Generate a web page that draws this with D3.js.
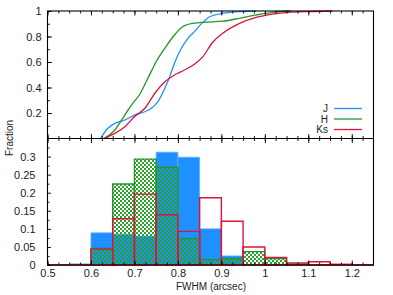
<!DOCTYPE html>
<html>
<head>
<meta charset="utf-8">
<script src="https://cdn.jsdelivr.net/npm/d3@7.9.0/dist/d3.min.js"></script>
<style>
  body { margin: 0; background: #fff; }
  svg { display: block; font-family: "Liberation Sans", Arial, sans-serif; }
  .tick text { font-size: 11px; fill: #222; }
</style>
</head>
<body>
<svg id="chart" width="393" height="295"></svg>
<script>
// cumulative curves: [fwhm, fraction]
const cdfJ = [[0.622,0],[0.639,0.08],[0.655,0.119],[0.678,0.145],[0.7,0.184],[0.724,0.21],[0.739,0.237],
  [0.754,0.289],[0.77,0.394],[0.781,0.485],[0.792,0.59],[0.808,0.708],[0.823,0.786],[0.838,0.838],
  [0.85,0.885],[0.873,0.955],[0.903,0.982],[0.94,0.995],[0.98,1]];
const cdfH = [[0.63,0],[0.655,0.067],[0.678,0.184],[0.693,0.262],[0.712,0.345],[0.731,0.472],[0.75,0.602],
  [0.77,0.708],[0.792,0.812],[0.811,0.877],[0.834,0.903],[0.865,0.912],[0.903,0.92],[0.942,0.943],
  [0.98,0.969],[1.018,0.99],[1.06,1]];
const cdfKs = [[0.63,0],[0.655,0.04],[0.678,0.093],[0.7,0.171],[0.724,0.237],[0.747,0.355],[0.77,0.445],
  [0.792,0.498],[0.815,0.537],[0.838,0.582],[0.857,0.64],[0.88,0.755],[0.903,0.825],[0.942,0.903],
  [0.98,0.95],[1.018,0.976],[1.056,0.99],[1.1,0.996],[1.155,1]];

// histograms, bins of 0.05 starting at 0.5
const binStarts = [0.5,0.55,0.6,0.65,0.7,0.75,0.8,0.85,0.9,0.95,1.0,1.05,1.1,1.15,1.2];
const histJ  = [0,0.003,0.089,0.085,0.08,0.312,0.298,0.1,0.025,0,0,0,0,0,0];
const histH  = [0,0,0.046,0.224,0.293,0.27,0.073,0.015,0.018,0.037,0.018,0.003,0,0,0];
const histKs = [0,0,0.044,0.128,0.196,0.139,0.093,0.186,0.121,0.05,0.021,0.006,0.009,0.002,0];
const binWidth = 0.05;

const series = ['J','H','Ks'];
const colJ = '#1e90ff', colH = '#259525', colKs = '#dc143c';

const svg = d3.select('#chart');
const x = d3.scaleLinear().domain([0.5, 1.25]).range([47.5, 373.5]);
const yTop = d3.scaleLinear().domain([0, 1]).range([138.5, 11]);
const yBot = d3.scaleLinear().domain([0, 0.35]).range([265, 138.5]);

// checker pattern for H
const defs = svg.append('defs');
const pat = defs.append('pattern').attr('id', 'checker')
  .attr('patternUnits', 'userSpaceOnUse').attr('width', 4).attr('height', 4);
pat.append('rect').attr('x', 0).attr('y', 0).attr('width', 2).attr('height', 2).attr('fill', '#2ba02b');
pat.append('rect').attr('x', 2).attr('y', 2).attr('width', 2).attr('height', 2).attr('fill', '#2ba02b');

function barPath(i, h) {
  const x0 = x(binStarts[i]), x1 = x(binStarts[i] + binWidth);
  const y0 = yBot(0), y1 = yBot(h);
  return `M${x0},${y0}V${y1}H${x1}V${y0}Z`;
}

// J: solid bars
svg.append('g').selectAll('path').data(histJ).join('path')
  .attr('d', (d, i) => barPath(i, d))
  .attr('fill', colJ).attr('stroke', '#5aaeff').attr('stroke-width', 0.8);

// H: checker bars with outline
svg.append('g').selectAll('path').data(histH).join('path')
  .attr('d', (d, i) => barPath(i, d))
  .attr('fill', 'url(#checker)').attr('stroke', colH).attr('stroke-width', 1.4);

// Ks: outline only
svg.append('g').selectAll('path').data(histKs).join('path')
  .attr('d', (d, i) => barPath(i, d))
  .attr('fill', 'none').attr('stroke', colKs).attr('stroke-width', 1.4);

// CDF lines
const line = d3.line().x(d => x(d[0])).y(d => yTop(d[1])).curve(d3.curveMonotoneX);
[[cdfJ, colJ], [cdfH, colH], [cdfKs, colKs]].forEach(([data, c]) => {
  svg.append('path').datum(data).attr('d', line)
    .attr('fill', 'none').attr('stroke', c).attr('stroke-width', 1.3);
});

// frame
svg.append('rect').attr('x', 47.5).attr('y', 11).attr('width', 326).attr('height', 254)
  .attr('fill', 'none').attr('stroke', '#000').attr('stroke-width', 1.1);
svg.append('line').attr('x1', 47.5).attr('x2', 373.5).attr('y1', 138.5).attr('y2', 138.5)
  .attr('stroke', '#000').attr('stroke-width', 1.1);

const majorX = d3.range(0.5, 1.201, 0.1);
const minorX = d3.range(0.5, 1.25, 0.025);

function addAxis(axis, tx, ty, strip) {
  const g = svg.append('g').attr('transform', `translate(${tx},${ty})`).call(axis);
  g.select('.domain').remove();
  g.selectAll('line').attr('stroke', '#000').attr('stroke-width', 0.9);
  if (strip) g.selectAll('text').remove();
  return g;
}

// bottom x axis
addAxis(d3.axisBottom(x).tickValues(majorX).tickSize(-4.5).tickPadding(4)
  .tickFormat(d => d3.format('~g')(+d.toFixed(2))), 0, 265, false);
addAxis(d3.axisBottom(x).tickValues(minorX).tickSize(-2.5), 0, 265, true);
// middle line, ticks both sides
addAxis(d3.axisBottom(x).tickValues(majorX).tickSize(4.5), 0, 138.5, true);
addAxis(d3.axisTop(x).tickValues(majorX).tickSize(4.5), 0, 138.5, true);
addAxis(d3.axisBottom(x).tickValues(minorX).tickSize(2.5), 0, 138.5, true);
addAxis(d3.axisTop(x).tickValues(minorX).tickSize(2.5), 0, 138.5, true);
// top frame
addAxis(d3.axisTop(x).tickValues(majorX).tickSize(-4.5), 0, 11, true);
addAxis(d3.axisTop(x).tickValues(minorX).tickSize(-2.5), 0, 11, true);

// top y axis
addAxis(d3.axisLeft(yTop).tickValues([0.2, 0.4, 0.6, 0.8, 1]).tickSize(-4.5).tickPadding(6)
  .tickFormat(d3.format('~g')), 47.5, 0, false);
addAxis(d3.axisLeft(yTop).tickValues(d3.range(0.1, 1, 0.1)).tickSize(-2.5), 47.5, 0, true);

// bottom y axis
addAxis(d3.axisLeft(yBot).tickValues([0, 0.05, 0.1, 0.15, 0.2, 0.25, 0.3]).tickSize(-3.5).tickPadding(12)
  .tickFormat(d => d3.format('~g')(+d.toFixed(2))), 47.5, 0, false);
addAxis(d3.axisLeft(yBot).tickValues(d3.range(0.025, 0.35, 0.05)).tickSize(-2), 47.5, 0, true);

// axis titles
svg.append('text').attr('transform', 'translate(13,138) rotate(-90)')
  .attr('text-anchor', 'middle').attr('font-size', 10).attr('fill', '#222').text('Fraction');
svg.append('text').attr('x', 211).attr('y', 290)
  .attr('text-anchor', 'middle').attr('font-size', 10).attr('fill', '#222').text('FWHM (arcsec)');

// legend
const legColors = [colJ, colH, colKs];
const leg = svg.append('g');
series.forEach((s, i) => {
  const yy = 108.5 + i * 10.5;
  leg.append('text').attr('x', 328).attr('y', yy + 3.5).attr('text-anchor', 'end')
    .attr('font-size', 10).attr('fill', '#222').text(s);
  leg.append('line').attr('x1', 334).attr('x2', 362).attr('y1', yy).attr('y2', yy)
    .attr('stroke', legColors[i]).attr('stroke-width', 1.3);
});
</script>
</body>
</html>
